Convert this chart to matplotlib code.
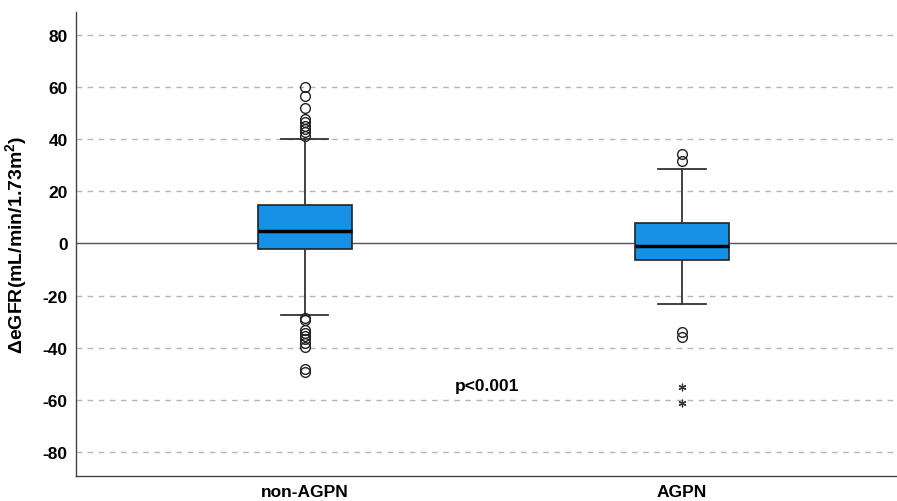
import matplotlib
matplotlib.use("Agg")
import matplotlib.pyplot as plt

plt.rcParams['font.family'] = ['Liberation Sans', 'DejaVu Sans']
plt.rcParams['mathtext.fontset'] = 'custom'
plt.rcParams['mathtext.rm'] = 'Liberation Sans:bold'
plt.rcParams['mathtext.bf'] = 'Liberation Sans:bold'
plt.rcParams['mathtext.it'] = 'Liberation Sans:bold'

categories = ["non-AGPN", "AGPN"]
q1 = [-2.1, -6.3]
median = [4.8, -1.0]
q3 = [14.8, 7.9]
whisker_low = [-27.4, -23.2]
whisker_high = [40.1, 28.6]
outliers_circle = [
    [41.4, 42.7, 43.9, 45.2, 46.5, 47.8, 51.9, 56.7, 60.0,
     -28.5, -29.5, -33.2, -34.3, -35.5, -36.8, -38.0, -39.8, -48.3, -49.2],
    [31.8, 34.3, -34.1, -36.0],
]
outliers_star = [[], [-55.2, -61.3]]
yticks = [-80, -60, -40, -20, 0, 20, 40, 60, 80]
p_text = "p<0.001"

fig = plt.figure(figsize=(8.97, 5.02), dpi=100)
ax = fig.add_axes([0.0847, 0.0498, 0.9153, 0.9243])

stats = []
for i in range(2):
    stats.append(dict(med=median[i], q1=q1[i], q3=q3[i],
                      whislo=whisker_low[i], whishi=whisker_high[i],
                      fliers=[], label=categories[i]))
positions = [1, 2]
ax.bxp(stats, positions=positions, widths=0.25, patch_artist=True,
       showfliers=False,
       boxprops=dict(facecolor='#1592E6', edgecolor='#222222', linewidth=1.2),
       medianprops=dict(color='black', linewidth=2.5),
       whiskerprops=dict(color='#333333', linewidth=1.3),
       capprops=dict(color='#333333', linewidth=1.3), zorder=3)

for i in range(2):
    if outliers_circle[i]:
        ax.plot([positions[i]] * len(outliers_circle[i]), outliers_circle[i], 'o',
                mfc='none', mec='#222222', ms=7, mew=1.0, zorder=4)
    if outliers_star[i]:
        ax.plot([positions[i]] * len(outliers_star[i]), outliers_star[i],
                marker=(6, 2, 0), ls='none', color='#333333', ms=5.5, mew=0.9, zorder=4)

ax.set_xlim(0.393, 2.570)
ax.set_ylim(-89.2, 88.8)
ax.set_yticks(yticks)
ax.set_yticklabels([str(v) for v in yticks], fontsize=12.5, fontweight='bold')
ax.set_xticks(positions)
ax.set_xticklabels(categories, fontsize=12.5, fontweight='bold')
ax.tick_params(length=0, pad=6)

for v in yticks:
    if v != 0:
        ax.axhline(v, color='#b4b4b4', ls=(0, (4, 4)), lw=1.0, zorder=1)
ax.axhline(0, color='#555555', lw=1.0, zorder=1)

for s in ['top', 'right']:
    ax.spines[s].set_visible(False)
for s in ['left', 'bottom']:
    ax.spines[s].set_color('#444444')
    ax.spines[s].set_linewidth(1.0)

ax.set_ylabel("\u0394eGFR(mL/min/1.73m$^{2}$)", fontsize=14, fontweight='bold', labelpad=10)
ax.text(1.483, -54.6, p_text, ha='center', va='center', fontsize=12.5, fontweight='bold')

fig.savefig("out.png", dpi=100)
